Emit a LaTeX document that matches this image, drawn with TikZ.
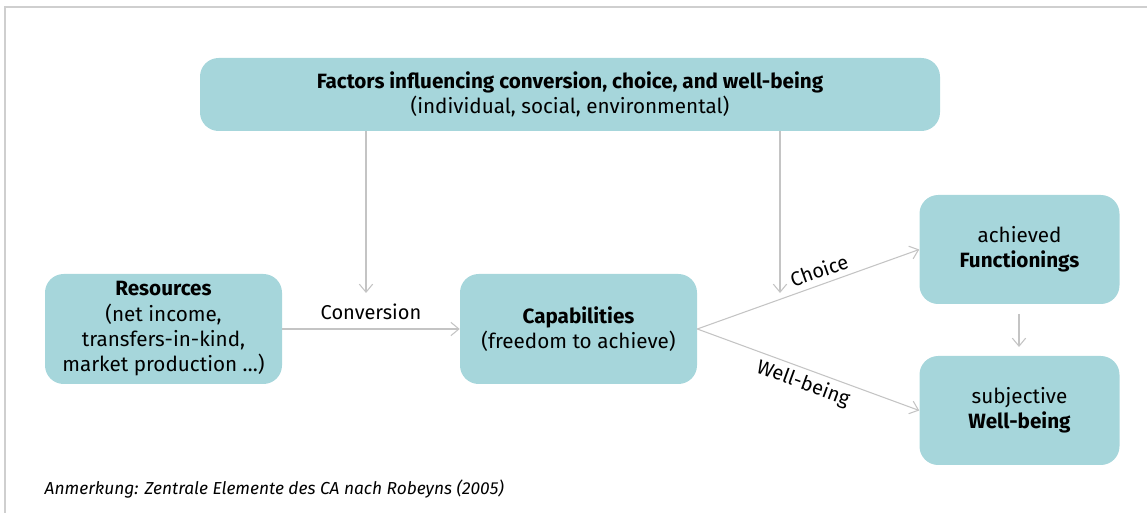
\documentclass[tikz,border=0pt]{standalone}
\usepackage{fontspec}
\setmainfont{Fira Sans}
\usetikzlibrary{arrows.meta}
\definecolor{boxfill}{HTML}{A6D6DB}
\definecolor{linegray}{HTML}{C4C4C4}
\definecolor{framegray}{HTML}{CFCFCF}
\tikzset{
  box/.style={fill=boxfill, rounded corners=14pt, inner sep=0pt, align=center, font=\fontsize{15.5}{19}\selectfont},
  conn/.style={draw=linegray, line width=0.8pt, -{Straight Barb[length=6pt,width=10pt]}},
  lbl/.style={font=\fontsize{15}{18}\selectfont},
}
\begin{document}
\begin{tikzpicture}[x=0.75pt,y=-0.75pt]
\useasboundingbox (0,0) rectangle (1147,513);
\draw[framegray, line width=1.2pt] (5,513) -- (5,7) -- (1147,7);
% boxes
\node[box, minimum width=740*0.75pt, minimum height=73*0.75pt] (factors) at (570,94.5)
  {\textbf{Factors influencing conversion, choice, and well-being}\\(individual, social, environmental)};
\node[box, minimum width=237*0.75pt, minimum height=110*0.75pt] (res) at (163.5,329)
  {\textbf{Resources}\\(net income,\\transfers-in-kind,\\market production \dots)};
\node[box, minimum width=237*0.75pt, minimum height=110*0.75pt] (cap) at (578.5,329)
  {\textbf{Capabilities}\\(freedom to achieve)};
\node[box, minimum width=200*0.75pt, minimum height=109*0.75pt] (func) at (1019.5,249.5)
  {achieved\\\textbf{Functionings}};
\node[box, minimum width=200*0.75pt, minimum height=109*0.75pt] (wb) at (1019.5,410.5)
  {subjective\\\textbf{Well-being}};
% connectors
\coordinate (c1) at (366,293);
\coordinate (c2) at (780,293);
\draw[conn] (factors.south -| c1) -- (c1);
\draw[conn] (factors.south -| c2) -- (c2);
\draw[conn] (res.east) -- node[lbl, above=3pt] {Conversion} (cap.west);
\draw[conn] (cap.east) -- node[lbl, above=1pt, sloped, pos=0.57] {Choice} (func.west);
\draw[conn] (cap.east) -- node[lbl, below=0pt, sloped, pos=0.5] {Well-being} (wb.west);
\coordinate (f1) at (1019,314);
\coordinate (f2) at (1019,347);
\draw[conn] (f1) -- (f2);
\node[anchor=west, font=\fontsize{13}{15}\selectfont\itshape] (note) at (40,489) {Anmerkung: Zentrale Elemente des CA nach Robeyns (2005)};
\end{tikzpicture}
\end{document}
